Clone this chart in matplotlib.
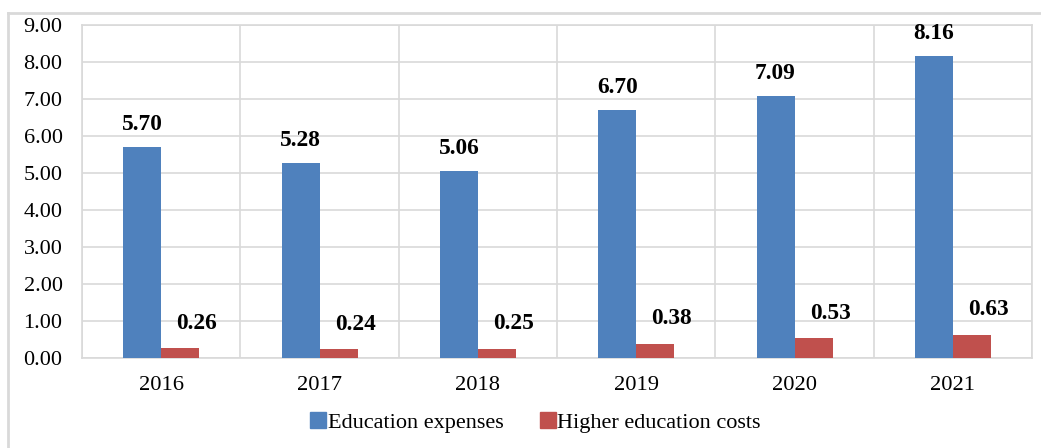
import numpy as np
import matplotlib.pyplot as plt
from matplotlib.lines import Line2D

years = ['2016', '2017', '2018', '2019', '2020', '2021']
edu = [5.70, 5.28, 5.06, 6.70, 7.09, 8.16]
higher = [0.26, 0.24, 0.25, 0.38, 0.53, 0.63]

blue = '#4f81bd'
red = '#c0504d'
grid = '#d9d9d9'

plt.rcParams['font.family'] = ['Liberation Serif', 'DejaVu Serif']

fig = plt.figure(figsize=(10.41, 4.48), dpi=100)
ax = fig.add_axes([0.0788, 0.2009, 0.9126, 0.7431])

x = np.arange(len(years))
w = 0.24
b1 = ax.bar(x - w / 2, edu, w, color=blue, label='Education expenses', zorder=3)
b2 = ax.bar(x + w / 2, higher, w, color=red, label='Higher education costs', zorder=3)

for xi, v in zip(x, edu):
    ax.annotate(f'{v:.2f}', (xi - w / 2, v), xytext=(0, 16), textcoords='offset points',
                ha='center', va='center', fontsize=16.8, fontweight='bold')
for xi, v in zip(x, higher):
    ax.annotate(f'{v:.2f}', (xi + w / 2, v), xytext=(12, 18), textcoords='offset points',
                ha='center', va='center', fontsize=16.8, fontweight='bold')

ax.set_xlim(-0.5, len(years) - 0.5)
ax.set_ylim(0, 9)
ax.set_yticks(np.arange(0, 9.5, 1))
ax.set_yticklabels([f'{t:.2f}' for t in np.arange(0, 9.5, 1)], fontsize=16)
ax.set_xticks(x)
ax.set_xticklabels(years, fontsize=16.2)
ax.set_xticks(np.arange(-0.5, len(years), 1), minor=True)
ax.tick_params(axis='y', length=0, pad=14)
ax.tick_params(axis='x', length=0, pad=13)
ax.tick_params(which='minor', length=0)
ax.grid(axis='y', color=grid, linewidth=1.2, zorder=0)
ax.grid(axis='x', which='minor', color=grid, linewidth=1.2, zorder=0)
for s in ax.spines.values():
    s.set_color(grid)
    s.set_linewidth(1.2)

handles = [Line2D([], [], marker='s', linestyle='none', markersize=11, color=blue),
           Line2D([], [], marker='s', linestyle='none', markersize=11, color=red)]
fig.legend(handles, ['Education expenses', 'Higher education costs'], loc='center',
           bbox_to_anchor=(0.515, 0.057), ncol=2, frameon=False, fontsize=16,
           handlelength=0.6, handletextpad=0.12, columnspacing=1.7)

# outer frame (left and top edges visible)
fig.add_artist(Line2D([8 / 1041, 8 / 1041], [0, 1 - 13 / 448], transform=fig.transFigure,
                      color=grid, linewidth=2))
fig.add_artist(Line2D([8 / 1041, 1], [1 - 13 / 448, 1 - 13 / 448], transform=fig.transFigure,
                      color=grid, linewidth=2))

fig.savefig('out.png', dpi=100)
